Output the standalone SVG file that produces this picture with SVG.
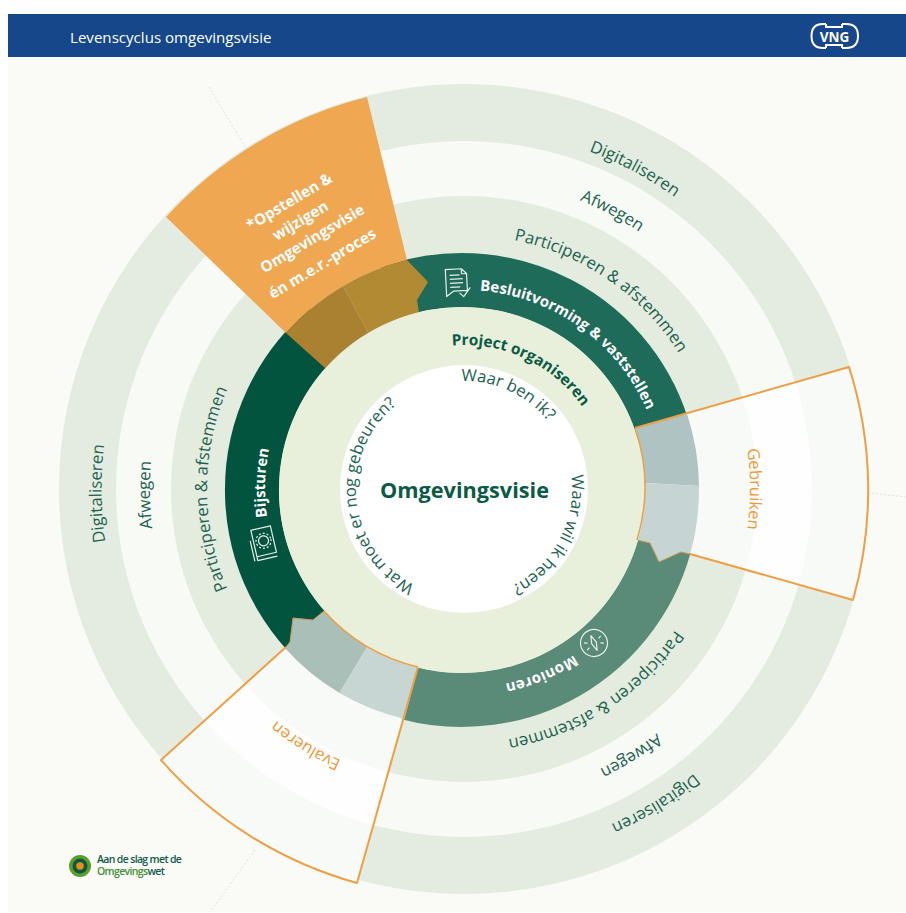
<svg xmlns="http://www.w3.org/2000/svg" width="906" height="913" viewBox="0 0 906 913">
<style>
text{font-family:"Open Sans","Liberation Sans",sans-serif}
.t{fill:#1b6350;font-size:16.8px;text-anchor:middle}
.c{fill:#1b6350;font-size:16.6px;text-anchor:middle}
.b{font-weight:700;text-anchor:middle}
.w{fill:#fff}
.o{fill:#ee9a3a;font-size:16.5px;text-anchor:middle}
.ol{fill:none;stroke:#ee9f45;stroke-width:2;stroke-linejoin:round}
.ol1{fill:none;stroke:#c99548;stroke-width:1}
.faint{fill:none;stroke:#dfe2da;stroke-width:1;stroke-dasharray:2 2}
.faint2{fill:none;stroke:#efefea;stroke-width:1;stroke-dasharray:2 2}
.ic{fill:none;stroke:#e8efe9;stroke-width:1.2;stroke-linejoin:round}
.l{fill:#fff;font-size:15.2px;font-weight:700;text-anchor:middle}
</style>
<defs>
<path id="r366" d="M464,855A366,366 0 1 1 464,123A366,366 0 1 1 464,855"/>
<path id="r360" d="M464,849A360,360 0 1 1 464,129A360,360 0 1 1 464,849"/>
<path id="r311" d="M464,800A311,311 0 1 1 464,178A311,311 0 1 1 464,800"/>
<path id="r254" d="M464,743A254,254 0 1 1 464,235A254,254 0 1 1 464,743"/>
<path id="r298" d="M464,787A298,298 0 1 1 464,191A298,298 0 1 1 464,787"/>
<path id="r286" d="M464,775A286,286 0 1 1 464,203A286,286 0 1 1 464,775"/>
<path id="r199" d="M464,688A199,199 0 1 1 464,290A199,199 0 1 1 464,688"/>
<path id="r144" d="M464,633A144,144 0 1 1 464,345A144,144 0 1 1 464,633"/>
<path id="r108" d="M464,597A108,108 0 1 1 464,381A108,108 0 1 1 464,597"/>
</defs>
<rect x="0" y="0" width="906" height="913" fill="#fff"/>
<rect x="8" y="57" width="898" height="855" fill="#fafbf6"/>
<g id="header">
<rect x="8" y="14" width="898" height="43" fill="#15478a"/>
<text x="70" y="43" fill="#fff" font-size="15.1">Levenscyclus omgevingsvisie</text>
<g id="vng-logo">
<path d="M826,24H823Q811.5,24 811.5,36Q811.5,48 823,48H826M842,24H846Q858,24 858,36Q858,48 846,48H842M826,24V27H842V24M826,48V45H842V48" fill="none" stroke="#fff" stroke-width="2"/>
<text x="834.5" y="42" fill="#fff" font-size="13.5" font-weight="700" text-anchor="middle">VNG</text>
</g>
</g>
<g id="rings">
<path class="faint" d="M209,87L258,168M868,493L906,497M255,850L210,912"/>
<circle cx="464" cy="489" r="405" fill="#e4ebe0"/>
<circle cx="464" cy="489" r="348" fill="#f8faf5"/>
<circle cx="464" cy="489" r="293" fill="#e4ebdf"/>
</g>
<g id="bands" fill="none" stroke-width="54">
<path stroke="#1f6b5a" d="M390.2,292.7A210,210 0 0 1 664.8,435.6"/>
<path stroke="#5a8a78" d="M668.8,526.5A210,210 0 0 1 407.6,692.8"/>
<path stroke="#03543f" d="M341.5,662A210,210 0 0 1 327,329.1"/>
</g>
<g id="connectors">
<path class="faint2" d="M699,486L868,493M339,693L253,850"/>
</g>
<g id="node-opstellen">
<path fill="#f0a751" d="M367,97A405,405 0 0 0 166,217L286,333A237,237 0 0 1 407,260Z"/>
<path fill="#b28a33" d="M343,286A237,237 0 0 1 407,260L428,282L417,300L419,313L375,345Z"/>
<path fill="#a98130" d="M286,333A237,237 0 0 1 343,286L375,345L330,372.5Z"/>
<g>
<text class="l" transform="translate(292,206) rotate(-31)">*Opstellen &amp;</text>
<text class="l" transform="translate(303,225) rotate(-31)">wijzigen</text>
<text class="l" transform="translate(315,243) rotate(-31)">Omgevingsvisie</text>
<text class="l" transform="translate(325,268) rotate(-31)">én m.e.r.-proces</text>
</g>
</g>
<g id="node-gebruiken">
<path fill="#fff" fill-opacity=".75" d="M635,428L849,367A405,405 0 0 1 853,600L690,554L681,552L659,562L650,543L637,540A183,183 0 0 0 635,428Z"/>
<path fill="#afc4c2" d="M635,428L687,414A237,237 0 0 1 699,486L645,483A183,183 0 0 0 635,428Z"/>
<path fill="#c6d5d4" d="M645,483L699,486A237,237 0 0 1 690,554L681,552L659,562L650,543L637,540A183,183 0 0 0 645,483Z"/>
<path class="ol" d="M635,428L849,367A405,405 0 0 1 853,600L690,554"/>
<path class="ol1" d="M690,554L681,552L659,562L650,543L637,540"/>
<text class="o"><textPath href="#r286" startOffset="75%">Gebruiken</textPath></text>
</g>
<g id="node-evalueren">
<path fill="#fff" fill-opacity=".75" d="M161,760L286,647L290,642L293,618L313,620L324,611A183,183 0 0 0 418,667L357,883A405,405 0 0 1 161,760Z"/>
<path fill="#a9bfb7" d="M285,648L290,642L293,618L313,620L324,611A183,183 0 0 0 367,647L339.5,693A237,237 0 0 1 285,648Z"/>
<path fill="#c7d6d2" d="M367,647A183,183 0 0 0 418,667L404.5,719A237,237 0 0 1 339.5,693Z"/>
<path class="ol" d="M286,647L161,760A405,405 0 0 0 357,883L418,667"/>
<path class="ol1" d="M286,647L290,642L293,618L313,620L324,611"/>
<text class="o"><textPath href="#r298" startOffset="8.8%">Evalueren</textPath></text>
</g>
<g id="node-project">
<circle cx="462" cy="490" r="183" fill="#e8f0db"/>
<path fill="none" stroke="#ee9f45" stroke-width="1.5" d="M635,428A183,183 0 0 1 637,540M324,611A183,183 0 0 0 418,667"/>
<text class="b" font-size="15.4" fill="#0a5a45"><textPath href="#r144" startOffset="57%">Project organiseren</textPath></text>
</g>
<g id="node-centre">
<circle cx="464" cy="489" r="124" fill="#fff"/>
<text class="b" x="464.5" y="498" font-size="21.7" fill="#0a5a45">Omgevingsvisie</text>
<text class="c"><textPath href="#r108" startOffset="56.9%">Waar ben ik?</textPath></text>
<text class="c"><textPath href="#r108" startOffset="82.8%">Waar wil ik heen?</textPath></text>
<text class="c"><textPath href="#r108" startOffset="23.4%">Wat moet er nog gebeuren?</textPath></text>
</g>
<g id="node-besluitvorming">
<text class="b w" font-size="15"><textPath href="#r199" startOffset="59.9%">Besluitvorming &amp; vaststellen</textPath></text>
<g class="ic" transform="translate(457,283) rotate(-3)">
<path d="M-11,-14H5L10,-9V8H-4L-11,13Z M5,-14V-9H10M-7,-8H3M-7,-4H6M-7,0H6M-7,4H3M2,10L6,14L13,5"/>
</g>
</g>
<g id="node-bijsturen">
<text class="b w" font-size="15"><textPath href="#r199" startOffset="25.5%">Bijsturen</textPath></text>
<g class="ic" transform="translate(263,543) rotate(-13)">
<path d="M-9,-15H11V12H-9ZM-9,12V16H11M-12,16V-5"/>
<circle cx="1" cy="-2" r="5"/><circle cx="1" cy="-2" r="7.5" stroke-dasharray="2 2"/>
</g>
</g>
<g id="node-monitoren">
<text class="b w" font-size="15" letter-spacing=".3"><textPath href="#r199" startOffset="93.7%">Monioren</textPath></text>
<g class="ic" transform="translate(594,643) rotate(-23)">
<circle r="13.5"/>
<path d="M0,-8L2.5,0L0,8L-2.5,0ZM-9,-4L-6,-2.5M9,-4L6,-2.5M-9,4L-6,2.5M9,4L6,2.5"/>
</g>
</g>
<g id="labels">
<text class="t"><textPath href="#r254" startOffset="59.6%">Participeren &amp; afstemmen</textPath></text>
<text class="t"><textPath href="#r311" startOffset="57.8%">Afwegen</textPath></text>
<text class="t"><textPath href="#r360" startOffset="57.8%">Digitaliseren</textPath></text>
<text class="t" transform="translate(-3,0)"><textPath href="#r254" startOffset="25%">Participeren &amp; afstemmen</textPath></text>
<text class="t" transform="translate(-3,0)"><textPath href="#r311" startOffset="24.7%">Afwegen</textPath></text>
<text class="t" transform="translate(-2.5,0)"><textPath href="#r360" startOffset="24.8%">Digitaliseren</textPath></text>
<text class="t"><textPath href="#r254" startOffset="90.8%">Participeren &amp; afstemmen</textPath></text>
<text class="t"><textPath href="#r311" startOffset="91.1%">Afwegen</textPath></text>
<text class="t"><textPath href="#r366" startOffset="91.3%">Digitaliseren</textPath></text>
</g>
<g id="omgevingswet-logo">
<circle cx="80" cy="866" r="11" fill="#5d9c2e"/>
<circle cx="80" cy="866" r="7.5" fill="#0b5a3f"/>
<circle cx="80" cy="866" r="3.8" fill="#ee8a1d"/>
<text x="97" y="863" font-size="10.5" font-weight="600" fill="#0f5a4a" letter-spacing="-.65">Aan de slag met de</text>
<text x="97" y="875" font-size="10.5" font-weight="600" fill="#0f5a4a" letter-spacing="-.65"><tspan fill="#3f8f35">Omgevings</tspan>wet</text>
</g>
</svg>
